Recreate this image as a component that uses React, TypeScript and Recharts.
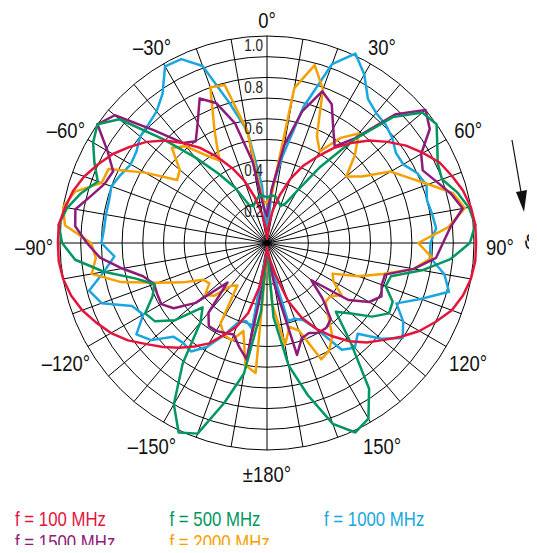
import { PolarAngleAxis, PolarGrid, PolarRadiusAxis, Radar, RadarChart } from "recharts";

const FONT = "'Liberation Sans', Arimo, Arial, sans-serif";
const SQUEEZE = 0.84; // condensed look of the original lettering

// polar layout (page pixels)
const CX = 267;
const CY = 243;
const R = 207;

// measured angle, degrees clockwise from 0° (top); 185..355 are -175..-5
const angles = [
  0, 5, 10, 15, 20, 25, 30, 35, 40, 45, 50, 55, 60, 65, 70, 75, 80, 85,
  90, 95, 100, 105, 110, 115, 120, 125, 130, 135, 140, 145, 150, 155, 160, 165, 170, 175,
  180, 185, 190, 195, 200, 205, 210, 215, 220, 225, 230, 235, 240, 245, 250, 255, 260, 265,
  270, 275, 280, 285, 290, 295, 300, 305, 310, 315, 320, 325, 330, 335, 340, 345, 350, 355,
];

const f100 = [
  0.02, 0.08, 0.16, 0.24, 0.33, 0.41, 0.48, 0.56, 0.63, 0.7, 0.76, 0.82, 0.87, 0.92, 0.95, 0.98, 1.0, 1.01,
  1.01, 1.01, 1.0, 0.98, 0.95, 0.9, 0.85, 0.79, 0.73, 0.68, 0.62, 0.55, 0.48, 0.4, 0.3, 0.16, 0.08, 0.04,
  0.02, 0.1, 0.22, 0.35, 0.43, 0.49, 0.56, 0.61, 0.66, 0.71, 0.76, 0.82, 0.87, 0.91, 0.95, 0.98, 1.0, 1.01,
  1.01, 1.01, 0.99, 0.97, 0.94, 0.9, 0.86, 0.81, 0.76, 0.7, 0.63, 0.56, 0.48, 0.4, 0.32, 0.23, 0.15, 0.07,
];

const f500 = [
  0.22, 0.23, 0.23, 0.21, 0.19, 0.21, 0.29, 0.45, 0.65, 0.86, 0.98, 1.0, 0.95, 0.91, 0.9, 0.95, 0.99, 1.01,
  0.98, 0.89, 0.76, 0.62, 0.61, 0.67, 0.68, 0.62, 0.53, 0.47, 0.63, 0.86, 0.98, 1.01, 0.93, 0.76, 0.6, 0.36,
  0.02, 0.33, 0.64, 0.8, 0.98, 1.01, 0.9, 0.71, 0.5, 0.44, 0.58, 0.66, 0.68, 0.61, 0.58, 0.66, 0.8, 0.93,
  0.99, 1.01, 0.98, 0.93, 0.87, 0.92, 0.97, 1.0, 0.93, 0.71, 0.54, 0.41, 0.31, 0.2, 0.19, 0.21, 0.23, 0.23,
];

const f1000 = [
  0.03, 0.26, 0.42, 0.68, 0.92, 1.01, 0.94, 0.85, 0.82, 0.81, 0.79, 0.76, 0.76, 0.8, 0.82, 0.8, 0.81, 0.82,
  0.79, 0.79, 0.87, 0.91, 0.79, 0.69, 0.76, 0.8, 0.72, 0.62, 0.66, 0.63, 0.48, 0.41, 0.39, 0.39, 0.12, 0.05,
  0.02, 0.06, 0.42, 0.39, 0.41, 0.49, 0.58, 0.64, 0.63, 0.64, 0.73, 0.77, 0.69, 0.72, 0.85, 0.89, 0.8, 0.74,
  0.8, 0.79, 0.79, 0.79, 0.8, 0.78, 0.76, 0.77, 0.8, 0.81, 0.83, 0.88, 0.985, 0.98, 0.91, 0.7, 0.55, 0.28,
];

const f1500 = [
  0.13, 0.26, 0.48, 0.66, 0.78, 0.74, 0.64, 0.57, 0.66, 0.88, 1.0, 0.96, 0.86, 0.83, 0.87, 0.92, 0.96, 0.89,
  0.85, 0.82, 0.72, 0.59, 0.59, 0.61, 0.57, 0.48, 0.28, 0.38, 0.48, 0.5, 0.5, 0.48, 0.49, 0.56, 0.2, 0.06,
  0.02, 0.18, 0.57, 0.52, 0.47, 0.48, 0.49, 0.49, 0.44, 0.27, 0.45, 0.55, 0.59, 0.585, 0.58, 0.62, 0.71, 0.81,
  0.87, 0.93, 0.94, 0.88, 0.835, 0.82, 0.89, 1.0, 0.96, 0.77, 0.63, 0.6, 0.67, 0.77, 0.72, 0.6, 0.4, 0.17,
];

const f2000 = [
  0.2, 0.22, 0.76, 0.89, 0.79, 0.57, 0.51, 0.62, 0.69, 0.6, 0.5, 0.56, 0.69, 0.75, 0.83, 0.93, 0.97, 0.88,
  0.73, 0.8, 0.72, 0.58, 0.47, 0.35, 0.37, 0.44, 0.4, 0.4, 0.46, 0.55, 0.6, 0.62, 0.45, 0.42, 0.5, 0.3,
  0.05, 0.63, 0.6, 0.44, 0.5, 0.49, 0.45, 0.25, 0.27, 0.36, 0.39, 0.34, 0.355, 0.45, 0.56, 0.73, 0.86, 0.83,
  0.85, 0.98, 1.0, 0.96, 0.85, 0.845, 0.68, 0.53, 0.55, 0.65, 0.61, 0.52, 0.46, 0.6, 0.8, 0.79, 0.55, 0.19,
];

const ringValues = [0.2, 0.3, 0.4, 0.5, 0.6, 0.7, 0.8, 0.9, 1.0];
const radiusTicks = [0, 0.2, 0.4, 0.6, 0.8, 1.0];
const spokeAngles = [
  0, 10, 20, 30, 40, 50, 60, 70, 80, 90, 100, 110, 120, 130, 140, 150, 160, 170,
  180, 190, 200, 210, 220, 230, 240, 250, 260, 270, 280, 290, 300, 310, 320, 330, 340, 350,
];

const series = [
  { key: "f100", name: "f = 100 MHz", color: "#e4143c", values: f100 },
  { key: "f500", name: "f = 500 MHz", color: "#00975f", values: f500 },
  { key: "f1000", name: "f = 1000 MHz", color: "#19a6e1", values: f1000 },
  { key: "f1500", name: "f = 1500 MHz", color: "#8e1b7a", values: f1500 },
  { key: "f2000", name: "f = 2000 MHz", color: "#f6a000", values: f2000 },
];

// back to front
const drawOrder = ["f1000", "f2000", "f1500", "f500", "f100"];

const data = angles.map((angle, i) => {
  const row: Record<string, number> = { angle };
  series.forEach((s) => {
    row[s.key] = s.values[i];
  });
  return row;
});

function CondText({ x, y, size, fill = "#111", anchor = "start", baseline, children }: any) {
  return (
    <text
      transform={`translate(${x} ${y}) scale(${SQUEEZE} 1)`}
      textAnchor={anchor}
      dominantBaseline={baseline}
      fontSize={size}
      fontFamily={FONT}
      fill={fill}
    >
      {children}
    </text>
  );
}

function angleLabel(v: number) {
  if (v === 0) return "0°";
  if (v === 180) return "±180°";
  if (v < 180) return `${v}°`;
  return `–${360 - v}°`;
}

function AngleTick(props: any) {
  const { x, y, payload } = props;
  const v = Number(payload?.value);
  if (v % 30 !== 0) return null;
  const dx = x - CX;
  const dy = y - CY;
  const len = Math.hypot(dx, dy) || 1;
  const r = 227 + 6 * Math.abs(dx / len);
  return (
    <CondText
      x={CX + (dx / len) * r}
      y={CY + (dy / len) * r + 4}
      size={22}
      anchor="middle"
      baseline="central"
    >
      {angleLabel(v)}
    </CondText>
  );
}

function RadiusTick(props: any) {
  const { x, y, payload } = props;
  const v = Number(payload?.value);
  if (!v) return null;
  return (
    <CondText x={x - 4} y={y + 10} size={16} anchor="end" baseline="central" fill="#222">
      {v.toFixed(1)}
    </CondText>
  );
}

export default function App() {
  return (
    <div
      style={{
        position: "relative",
        margin: -8,
        width: 537,
        height: 553,
        overflow: "hidden",
        background: "#fff",
        fontFamily: FONT,
      }}
    >
      <RadarChart
        width={537}
        height={500}
        cx={CX}
        cy={CY}
        innerRadius={0}
        outerRadius={R}
        data={data}
        startAngle={90}
        endAngle={-270}
        margin={{ top: 0, right: 0, bottom: 0, left: 0 }}
      >
        <PolarGrid
          gridType="circle"
          polarAngles={spokeAngles}
          polarRadius={ringValues.map((v) => v * R)}
          stroke="#000"
          strokeWidth={1}
        />
        <PolarAngleAxis
          dataKey="angle"
          axisLine={false}
          tickLine={false}
          tick={<AngleTick />}
        />
        <PolarRadiusAxis
          angle={90}
          type="number"
          domain={[0, 1]}
          allowDataOverflow
          ticks={radiusTicks}
          tickCount={6}
          axisLine={false}
          tickLine={false}
          tick={<RadiusTick />}
        />
        {drawOrder.map((k) => {
          const s = series.find((d) => d.key === k)!;
          return (
            <Radar
              key={s.key}
              name={s.name}
              dataKey={s.key}
              stroke={s.color}
              strokeWidth={2.5}
              strokeLinejoin="round"
              fill="none"
              fillOpacity={0}
              dot={false}
              isAnimationActive={false}
            />
          );
        })}
      </RadarChart>
      <svg
        width={537}
        height={553}
        style={{ position: "absolute", left: 0, top: 0, pointerEvents: "none" }}
      >
        <line x1={512} y1={140} x2={521} y2={192} stroke="#111" strokeWidth={1.2} />
        <polygon points="516,192 527,190 524,212" fill="#111" />
        <text x={524} y={249} fontSize={19} fontFamily="'DejaVu Sans', sans-serif" fill="#111">
          ϑ
        </text>
        {series.map((s, i) => (
          <CondText
            key={s.key}
            x={15 + (i % 3) * 154.5}
            y={526 + Math.floor(i / 3) * 23}
            size={20}
            fill={s.color}
          >
            {s.name}
          </CondText>
        ))}
      </svg>
    </div>
  );
}
